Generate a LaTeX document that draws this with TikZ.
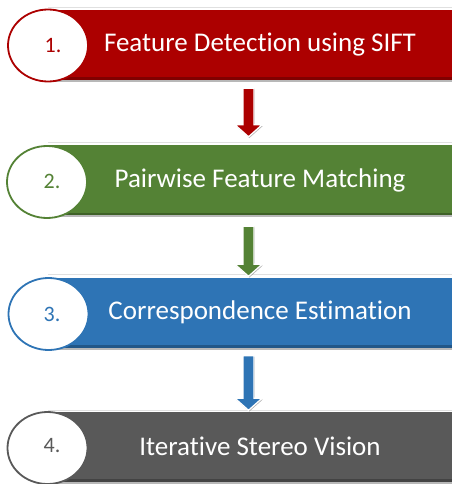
\documentclass[tikz,border=0pt]{standalone}
\usepackage{fontspec}
\setmainfont{Carlito}[Ligatures=NoCommon]
\usetikzlibrary{shapes.geometric,shadows,calc}

\definecolor{cred}{HTML}{AC0000}
\definecolor{cgreen}{HTML}{548235}
\definecolor{cblue}{HTML}{2E74B5}
\definecolor{cgray}{HTML}{595959}

\tikzset{
  bar/.style={rectangle, fill=#1, minimum width=404pt, minimum height=70pt,
    inner sep=0pt,
    general shadow={shadow xshift=0pt, shadow yshift=-2pt, fill=black, opacity=0.28},
    path picture={\fill[#1!75!black] ([yshift=2.5pt]path picture bounding box.south west)
      rectangle (path picture bounding box.south east);}},
  halo/.style={draw=black!12, line width=1.2pt},
  badge/.style={ellipse, draw=#1, line width=1.8pt, fill=white,
    minimum width=80pt, minimum height=72pt, inner sep=0pt},
  numtext/.style={text=#1, font=\fontsize{22}{26}\selectfont},
  bartext/.style={text=white, font=\fontsize{27}{32}\selectfont},
  blockarrow/.style={fill=#1, draw=white, line width=1.3pt,
    general shadow={shadow xshift=0.8pt, shadow yshift=-1.2pt, fill=black, opacity=0.3},
    to path={let \p1=(\tikztostart), \p2=(\tikztotarget) in
      (\x1-5.5pt,\y1) -- (\x1+5.5pt,\y1) -- (\x1+5.5pt,\y2+12pt)
      -- (\x1+13.5pt,\y2+12pt) -- (\x1,\y2) -- (\x1-13.5pt,\y2+12pt)
      -- (\x1-5.5pt,\y2+12pt) -- cycle}},
}

\begin{document}
\begin{tikzpicture}[x=1pt,y=-1pt]
\useasboundingbox (0,0) rectangle (452,484);

% faint lines above each bar
\draw[halo] (48,7.5) -- (452,7.5);
\draw[halo] (48,142.5) -- (452,142.5);
\draw[halo] (48,274.5) -- (452,274.5);
\draw[halo] (48,410.5) -- (452,410.5);

% the four bars
\node[bar=cred]   (b1) at (250,45)    {};
\node[bar=cgreen] (b2) at (250,180)   {};
\node[bar=cblue]  (b3) at (250,312.5) {};
\node[bar=cgray]  (b4) at (250,446.5) {};

\node[bartext] (t1) at (260,45)    {Feature Detection using SIFT};
\node[bartext] (t2) at (260,180)   {Pairwise Feature Matching};
\node[bartext] (t3) at (260,312.5) {Correspondence Estimation};
\node[bartext] (t4) at (260,446.5) {Iterative Stereo Vision};

% numbered badges
\node[badge=cred]   (e1) at (48,45.5) {};
\node[badge=cgreen] (e2) at (47,182)  {};
\node[badge=cblue]  (e3) at (48.5,314) {};
\node[badge=cgray]  (e4) at (47.5,448) {};

\node[numtext=cred]   (n1) at (53,46)  {1.};
\node[numtext=cgreen] (n2) at (52,181) {2.};
\node[numtext=cblue]  (n3) at (52,314) {3.};
\node[numtext=cgray]  (n4) at (52,446) {4.};

% block arrows between the bars
\coordinate (a1s) at ($(b1.south -| 248.5,0)+(0,8)$);
\coordinate (a1e) at ($(b2.north -| 248.5,0)+(0,-8)$);
\coordinate (a2s) at ($(b2.south -| 248.5,0)+(0,11)$);
\coordinate (a2e) at ($(b3.north -| 248.5,0)+(0,-1)$);
\coordinate (a3s) at ($(b3.south -| 248.5,0)+(0,8)$);
\coordinate (a3e) at ($(b4.north -| 248.5,0)+(0,-1)$);

\draw[blockarrow=cred]   (a1s) to (a1e);
\draw[blockarrow=cgreen] (a2s) to (a2e);
\draw[blockarrow=cblue]  (a3s) to (a3e);
\end{tikzpicture}
\end{document}
